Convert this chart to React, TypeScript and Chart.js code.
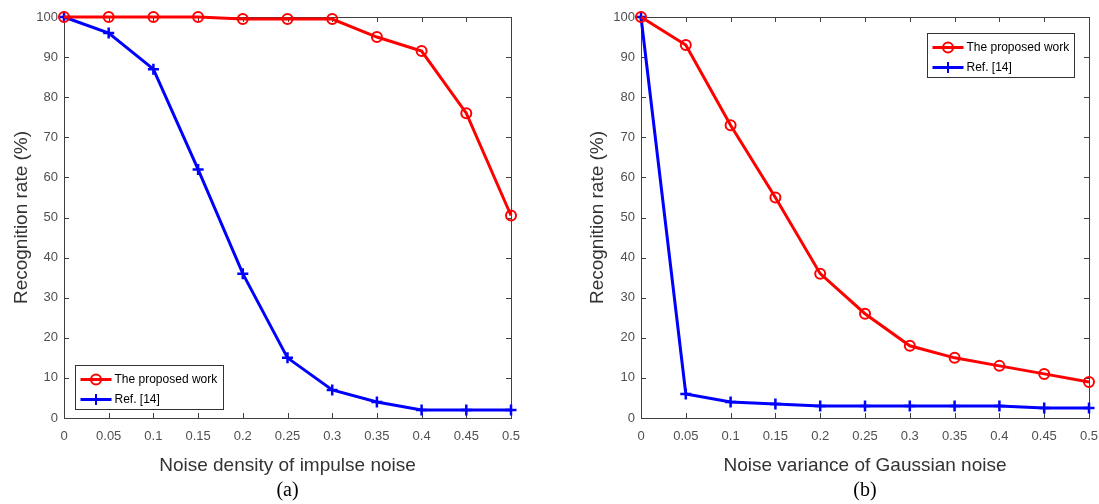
import React, { useEffect, useRef } from 'react';
import { Chart, registerables } from 'chart.js';

Chart.register(...registerables);

// ---- data ----
const xValues = [0, 0.05, 0.1, 0.15, 0.2, 0.25, 0.3, 0.35, 0.4, 0.45, 0.5];
const xTickLabels = ['0', '0.05', '0.1', '0.15', '0.2', '0.25', '0.3', '0.35', '0.4', '0.45', '0.5'];
const yTickValues = [0, 10, 20, 30, 40, 50, 60, 70, 80, 90, 100];
const seriesNames = ['The proposed work', 'Ref. [14]'];

const impulseProposed = [100, 100, 100, 100, 99.5, 99.5, 99.5, 95, 91.5, 76, 50.5];
const impulseRef = [100, 96, 87, 62, 36, 15, 7, 4, 2, 2, 2];

const gaussianProposed = [100, 93, 73, 55, 36, 26, 18, 15, 13, 11, 9];
const gaussianRef = [100, 6, 4, 3.5, 3, 3, 3, 3, 3, 2.5, 2.5];

const yTitle = 'Recognition rate (%)';
const xTitleA = 'Noise density of impulse noise';
const xTitleB = 'Noise variance of Gaussian noise';
const captionA = '(a)';
const captionB = '(b)';

const RED = '#ff0000';
const BLUE = '#0000ff';
const SANS = '"Liberation Sans", Arial, Helvetica, sans-serif';

type LegendSpec = { corner: 'bottomLeft' | 'topRight'; dx: number; dy: number; w: number; h: number };

interface PanelProps {
  proposed: number[];
  reference: number[];
  xTitle: string;
  caption: string;
  width: number;
  yAxisWidth: number;
  yTitlePad: number;
  padRight: number;
  legend: LegendSpec;
}

function drawMarker(ctx: CanvasRenderingContext2D, kind: string, x: number, y: number, color: string) {
  ctx.save();
  ctx.strokeStyle = color;
  ctx.lineWidth = 2;
  ctx.beginPath();
  if (kind === 'circle') {
    ctx.arc(x, y, 5, 0, Math.PI * 2);
  } else {
    ctx.moveTo(x - 5.5, y);
    ctx.lineTo(x + 5.5, y);
    ctx.moveTo(x, y - 5.5);
    ctx.lineTo(x, y + 5.5);
  }
  ctx.stroke();
  ctx.restore();
}

function Panel(props: PanelProps) {
  const ref = useRef<HTMLCanvasElement | null>(null);

  useEffect(() => {
    if (!ref.current) return;
    const { legend } = props;

    const framePlugin = {
      id: 'frame',
      beforeDatasetsDraw(chart: any) {
        const { ctx, chartArea } = chart;
        const { left, right, top, bottom } = chartArea;
        const xs = chart.scales.x;
        const ys = chart.scales.y;
        ctx.save();
        ctx.strokeStyle = '#404040';
        ctx.lineWidth = 1;
        ctx.strokeRect(Math.round(left) + 0.5, Math.round(top) + 0.5, Math.round(right - left), Math.round(bottom - top));
        const L = 5;
        ctx.beginPath();
        xValues.forEach((v) => {
          const px = Math.round(xs.getPixelForValue(v)) + 0.5;
          ctx.moveTo(px, bottom);
          ctx.lineTo(px, bottom - L);
          ctx.moveTo(px, top);
          ctx.lineTo(px, top + L);
        });
        yTickValues.forEach((v) => {
          const py = Math.round(ys.getPixelForValue(v)) + 0.5;
          ctx.moveTo(left, py);
          ctx.lineTo(left + L, py);
          ctx.moveTo(right, py);
          ctx.lineTo(right - L, py);
        });
        ctx.stroke();
        ctx.restore();
      },
    };

    const overlayPlugin = {
      id: 'overlay',
      afterDraw(chart: any) {
        const { ctx, chartArea } = chart;
        const { left, right, top, bottom } = chartArea;
        ctx.save();
        // caption
        ctx.fillStyle = '#000';
        ctx.font = '20px "Liberation Serif", "DejaVu Serif", serif';
        ctx.textAlign = 'center';
        ctx.textBaseline = 'middle';
        ctx.fillText(props.caption, (left + right) / 2, bottom + 73);

        // legend box
        let bx: number, by: number;
        if (legend.corner === 'bottomLeft') {
          bx = left + legend.dx;
          by = bottom - legend.dy - legend.h;
        } else {
          bx = right - legend.dx - legend.w;
          by = top + legend.dy;
        }
        bx = Math.round(bx) + 0.5;
        by = Math.round(by) + 0.5;
        ctx.fillStyle = '#ffffff';
        ctx.fillRect(bx, by, legend.w, legend.h);
        ctx.strokeStyle = '#333333';
        ctx.lineWidth = 1;
        ctx.strokeRect(bx, by, legend.w, legend.h);
        const items = [
          { name: seriesNames[0], color: RED, kind: 'circle' },
          { name: seriesNames[1], color: BLUE, kind: 'cross' },
        ];
        ctx.font = '12px ' + SANS;
        ctx.textAlign = 'left';
        ctx.textBaseline = 'middle';
        items.forEach((it, i) => {
          const cy = by + 14 + i * 20;
          ctx.strokeStyle = it.color;
          ctx.lineWidth = 3;
          ctx.beginPath();
          ctx.moveTo(bx + 5, cy);
          ctx.lineTo(bx + 36, cy);
          ctx.stroke();
          drawMarker(ctx, it.kind, bx + 20.5, cy, it.color);
          ctx.fillStyle = '#000';
          ctx.fillText(it.name, bx + 39, cy + 0.5);
        });
        ctx.restore();
      },
    };

    const chart = new Chart(ref.current, {
      type: 'line',
      data: {
        datasets: [
          {
            label: seriesNames[0],
            data: xValues.map((x, i) => ({ x, y: props.proposed[i] })),
            borderColor: RED,
            borderWidth: 3,
            pointStyle: 'circle',
            pointRadius: 5,
            pointBorderWidth: 2,
            pointBorderColor: RED,
            pointBackgroundColor: 'rgba(0,0,0,0)',
            tension: 0,
            clip: false as any,
          },
          {
            label: seriesNames[1],
            data: xValues.map((x, i) => ({ x, y: props.reference[i] })),
            borderColor: BLUE,
            borderWidth: 3,
            pointStyle: 'cross',
            pointRadius: 5.5,
            pointBorderWidth: 2.5,
            pointBorderColor: BLUE,
            pointBackgroundColor: BLUE,
            tension: 0,
            clip: false as any,
          },
        ],
      },
      options: {
        animation: false,
        responsive: false,
        devicePixelRatio: 1,
        layout: { padding: { top: 17, right: props.padRight, bottom: 26, left: 0 } },
        plugins: {
          legend: { display: false },
          tooltip: { enabled: false },
          title: { display: false },
        },
        scales: {
          x: {
            type: 'linear',
            min: 0,
            max: 0.5,
            afterBuildTicks: (scale: any) => {
              scale.ticks = xValues.map((v) => ({ value: v }));
            },
            afterFit: (scale: any) => {
              scale.height = 60;
              scale.paddingRight = 0;
              scale.paddingLeft = 0;
            },
            grid: { display: false, drawTicks: false },
            border: { display: false },
            ticks: {
              padding: 11,
              autoSkip: false,
              maxRotation: 0,
              color: '#505050',
              font: { family: SANS, size: 13 },
              callback: (_v: any, i: number) => xTickLabels[i],
            },
            title: {
              display: true,
              text: props.xTitle,
              color: '#333333',
              font: { family: SANS, size: 19 },
              padding: { top: 0, bottom: 1 },
            },
          },
          y: {
            type: 'linear',
            min: 0,
            max: 100,
            afterBuildTicks: (scale: any) => {
              scale.ticks = yTickValues.map((v) => ({ value: v }));
            },
            afterFit: (scale: any) => {
              scale.width = props.yAxisWidth;
            },
            grid: { display: false, drawTicks: false },
            border: { display: false },
            ticks: {
              padding: 6,
              color: '#505050',
              font: { family: SANS, size: 13 },
              callback: (v: any) => String(v),
            },
            title: {
              display: true,
              text: yTitle,
              color: '#333333',
              font: { family: SANS, size: 19 },
              padding: { top: props.yTitlePad, bottom: 0 },
            },
          },
        },
      },
      plugins: [framePlugin, overlayPlugin],
    } as any);

    return () => chart.destroy();
  }, []);

  return (
    <canvas
      ref={ref}
      width={props.width}
      height={504}
      style={{ display: 'block', width: props.width, height: 504 }}
    />
  );
}

export default function App() {
  return (
    <div
      style={{
        position: 'fixed',
        left: 0,
        top: 0,
        width: 1099,
        height: 504,
        background: '#ffffff',
        display: 'flex',
        flexDirection: 'row',
        overflow: 'hidden',
      }}
    >
      <Panel
        proposed={impulseProposed}
        reference={impulseRef}
        xTitle={xTitleA}
        caption={captionA}
        width={549}
        yAxisWidth={64}
        yTitlePad={10}
        padRight={38}
        legend={{ corner: 'bottomLeft', dx: 11, dy: 9, w: 148, h: 44 }}
      />
      <Panel
        proposed={gaussianProposed}
        reference={gaussianRef}
        xTitle={xTitleB}
        caption={captionB}
        width={550}
        yAxisWidth={92}
        yTitlePad={37}
        padRight={10}
        legend={{ corner: 'topRight', dx: 15, dy: 16, w: 147, h: 44 }}
      />
    </div>
  );
}
